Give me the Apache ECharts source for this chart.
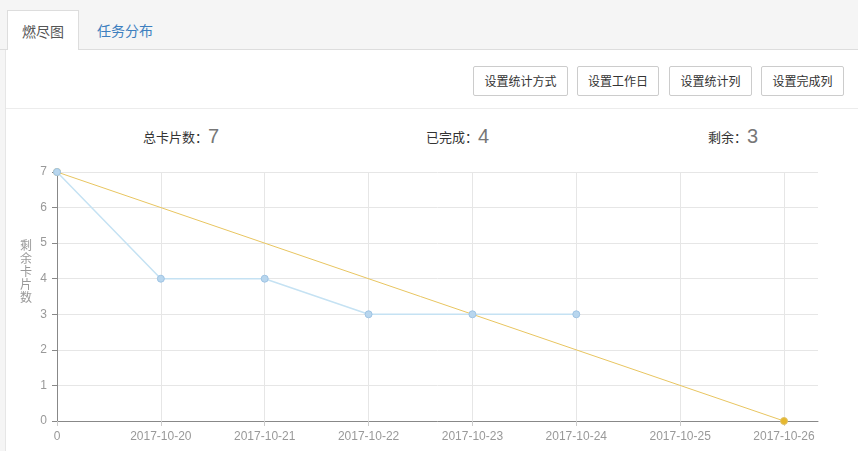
<!DOCTYPE html>
<html>
<head>
<meta charset="utf-8">
<script src="https://cdn.jsdelivr.net/npm/echarts@6/dist/echarts.min.js"></script>
<style>
  html, body { margin: 0; padding: 0; width: 858px; height: 451px; overflow: hidden; background: #f5f5f5;
    font-family: "Noto Sans CJK SC", "Microsoft YaHei", sans-serif; }
  .tabs { position: absolute; left: 0; top: 0; width: 858px; height: 50px; border-bottom: 1px solid #ddd; box-sizing: border-box; }
  .tab { position: absolute; top: 10px; height: 41px; line-height: 40px; font-size: 14px; box-sizing: border-box; }
  .tab.active { left: 7px; width: 72px; background: #fff; border: 1px solid #ddd; border-bottom: none; color: #555; text-align: center; }
  .tab.other { left: 97px; color: #3d7fbf; }
  .panel { position: absolute; left: 5px; top: 50px; width: 853px; height: 401px; background: #fff; border-left: 1px solid #e6e6e6; box-sizing: border-box; }
  .toolbar { position: absolute; left: 0; top: 0; width: 100%; height: 59px; border-bottom: 1px solid #ececec; box-sizing: border-box; }
  .btn { position: absolute; top: 16px; height: 30px; line-height: 28px; border: 1px solid #ccc; border-radius: 2px; box-sizing: border-box;
    font-size: 12px; color: #333; text-align: center; background: #fff; }
  .stat { position: absolute; top: 73px; font-size: 13px; color: #333; line-height: 26px; white-space: nowrap; }
  .stat b { font-weight: normal; font-size: 20px; color: #777; font-family: "Liberation Sans", Arial, sans-serif; vertical-align: -1px; }
  #chart { position: absolute; left: 0; top: 150px; width: 858px; height: 301px; }
</style>
</head>
<body>
<div class="tabs">
  <div class="tab active">燃尽图</div>
  <div class="tab other">任务分布</div>
</div>
<div class="panel">
  <div class="toolbar">
    <div class="btn" style="left:467px;width:95px;">设置统计方式</div>
    <div class="btn" style="left:571px;width:82px;">设置工作日</div>
    <div class="btn" style="left:663px;width:83px;">设置统计列</div>
    <div class="btn" style="left:755px;width:83px;">设置完成列</div>
  </div>
  <div class="stat" style="left:137px;">总卡片数：<b id="s-total"></b></div>
  <div class="stat" style="left:420px;">已完成：<b id="s-done"></b></div>
  <div class="stat" style="left:702px;">剩余：<b id="s-left"></b></div>
</div>
<div id="chart"></div>
<script>
// x-axis categories: start point plus working days
const categories = ['0', '2017-10-20', '2017-10-21', '2017-10-22', '2017-10-23', '2017-10-24', '2017-10-25', '2017-10-26'];
// actual remaining cards per day
const remaining = [7, 4, 4, 3, 3, 3];
// ideal burndown: from total to zero on the last day
const ideal = [7, '-', '-', '-', '-', '-', '-', 0];
const yTicks = [0, 1, 2, 3, 4, 5, 6, 7];
const yAxisTitle = '剩余卡片数';
const totalCards = 7;
const doneCards = 4;
const leftCards = 3;

document.getElementById('s-total').textContent = totalCards;
document.getElementById('s-done').textContent = doneCards;
document.getElementById('s-left').textContent = leftCards;

const chart = echarts.init(document.getElementById('chart'));
const labelColor = '#999';
const splitColor = '#e6e6e6';
const yMin = yTicks[0], yMax = yTicks[yTicks.length - 1];

chart.setOption({
  animation: false,
  textStyle: { fontFamily: 'Liberation Sans, Arial, sans-serif' },
  grid: [
    // plotting grid ends at the last day
    { left: 57, right: 74, top: 22, bottom: 30, containLabel: false },
    // frame grid: horizontal split lines and axis line run a bit further
    { left: 57, right: 40, top: 22, bottom: 30, containLabel: false }
  ],
  // vertical, upright axis title
  graphic: [{
    type: 'text', left: 20, top: 89, silent: true,
    style: { text: yAxisTitle.split('').join('\n'), fill: labelColor, fontSize: 12, lineHeight: 13,
      fontFamily: 'Noto Sans CJK SC' }
  }],
  xAxis: [
    {
      gridIndex: 0, type: 'category', data: categories, boundaryGap: false,
      axisLine: { show: false },
      axisTick: { show: true, length: 5, lineStyle: { color: '#ccc' } },
      axisLabel: { color: labelColor, fontSize: 12, margin: 10 },
      splitLine: { show: true, lineStyle: { color: splitColor } }
    },
    {
      gridIndex: 1, type: 'category', data: categories, boundaryGap: false,
      axisLine: { show: true, lineStyle: { color: '#888' } },
      axisTick: { show: false }, axisLabel: { show: false }, splitLine: { show: false }
    }
  ],
  yAxis: [
    {
      gridIndex: 0, type: 'value', min: yMin, max: yMax, interval: 1,
      axisLine: { show: false }, axisTick: { show: false }, axisLabel: { show: false }, splitLine: { show: false }
    },
    {
      gridIndex: 1, type: 'value', min: yMin, max: yMax, interval: 1,
      axisLine: { show: true, lineStyle: { color: '#888' } },
      axisTick: { show: true, length: 5, lineStyle: { color: '#888' } },
      axisLabel: { color: labelColor, fontSize: 12, margin: 10 },
      splitLine: { show: true, lineStyle: { color: splitColor } }
    }
  ],
  series: [
    {
      name: '理想', type: 'line', xAxisIndex: 0, yAxisIndex: 0, data: ideal, connectNulls: true,
      symbol: 'circle', symbolSize: 7, showAllSymbol: true,
      lineStyle: { color: '#e8c560', width: 1 },
      itemStyle: { color: '#e6b82e', borderColor: '#e0c26a', borderWidth: 1 },
      z: 2
    },
    {
      name: '剩余', type: 'line', xAxisIndex: 0, yAxisIndex: 0, data: remaining,
      symbol: 'circle', symbolSize: 7, showAllSymbol: true,
      lineStyle: { color: '#c5e2f3', width: 1.5 },
      itemStyle: { color: '#b8d6ee', borderColor: '#9fc4e4', borderWidth: 1 },
      z: 3
    }
  ]
});
</script>
</body>
</html>
